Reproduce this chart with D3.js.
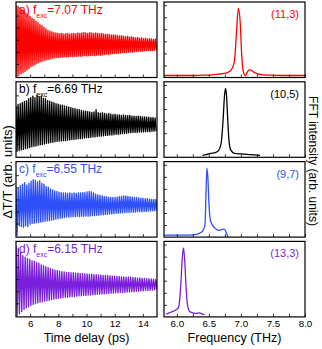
<!DOCTYPE html>
<html><head><meta charset="utf-8">
<script src="https://cdn.jsdelivr.net/npm/d3@7"></script>
<style>body{margin:0;background:#fff}svg{display:block;font-family:"Liberation Sans",Arial,sans-serif}</style>
</head><body><svg id="c" width="322" height="349"></svg>
<script>
// ---------- data ----------
const timeDomain = [5, 15];
const freqDomain = [5.8, 8.0];
const timeTicks = [6, 7, 8, 9, 10, 11, 12, 13, 14];
const timeTickLabels = [6, 8, 10, 12, 14];
const freqTicks = [6.0, 6.25, 6.5, 6.75, 7.0, 7.25, 7.5, 7.75, 8.0];
const freqTickLabels = [6.0, 6.5, 7.0, 7.5, 8.0];
const panelLetters = ["a)", "b)", "c)", "d)"];
const fExc = [7.07, 6.69, 6.55, 6.15];
const modeLabels = ["(11,3)", "(10,5)", "(9,7)", "(13,3)"];
const colors = ["#ff0000", "#000000", "#2f50f8", "#7a1fdc"];

// time-domain oscillation: per-cycle peak and trough values (arb. units)
const peaksA = [0.92,0.88,0.85,0.80,0.76,0.70,0.66,0.62,0.57,0.54,0.49,0.45,0.40,0.37,0.33,0.29,0.25,0.23,0.21,0.19,0.18,0.17,0.16,0.17,0.15,0.16,0.17,0.15,0.16,0.17,0.16,0.18,0.17,0.18,0.19,0.18,0.17,0.19,0.18,0.17,0.18,0.17,0.16,0.17,0.15,0.14,0.15,0.13,0.12,0.13,0.12,0.11,0.10,0.11,0.09,0.08,0.09,0.07,0.08,0.06,0.05,0.06,0.04,0.05,0.03,0.04,0.02,0.03,0.02,0.01,0.02];
const troughsA = [-0.97,-0.94,-0.90,-0.87,-0.84,-0.80,-0.76,-0.72,-0.69,-0.66,-0.63,-0.61,-0.58,-0.56,-0.55,-0.53,-0.52,-0.50,-0.49,-0.48,-0.47,-0.47,-0.46,-0.46,-0.45,-0.46,-0.45,-0.44,-0.45,-0.44,-0.44,-0.43,-0.44,-0.43,-0.42,-0.43,-0.42,-0.42,-0.41,-0.42,-0.41,-0.40,-0.41,-0.40,-0.39,-0.38,-0.39,-0.37,-0.37,-0.36,-0.36,-0.35,-0.35,-0.34,-0.34,-0.33,-0.33,-0.32,-0.33,-0.31,-0.31,-0.30,-0.30,-0.30,-0.29,-0.29,-0.28,-0.29,-0.28,-0.28,-0.27];
const peaksB = [0.36,0.40,0.42,0.45,0.48,0.50,0.55,0.58,0.62,0.58,0.64,0.60,0.62,0.56,0.55,0.50,0.49,0.46,0.45,0.42,0.41,0.39,0.38,0.36,0.35,0.33,0.32,0.30,0.29,0.27,0.26,0.24,0.23,0.22,0.21,0.20,0.19,0.20,0.26,0.18,0.17,0.18,0.16,0.15,0.16,0.14,0.13,0.14,0.12,0.12,0.11,0.12,0.10,0.10,0.11,0.09,0.09,0.08,0.09,0.08,0.07,0.07,0.06,0.06,0.05,0.05,0.04];
const troughsB = [-0.84,-0.82,-0.80,-0.79,-0.77,-0.76,-0.74,-0.72,-0.71,-0.70,-0.68,-0.67,-0.66,-0.65,-0.63,-0.62,-0.61,-0.60,-0.59,-0.58,-0.57,-0.57,-0.56,-0.56,-0.55,-0.54,-0.53,-0.53,-0.52,-0.51,-0.51,-0.50,-0.49,-0.48,-0.48,-0.47,-0.46,-0.46,-0.45,-0.44,-0.44,-0.43,-0.42,-0.42,-0.41,-0.41,-0.40,-0.39,-0.39,-0.38,-0.37,-0.37,-0.36,-0.35,-0.35,-0.34,-0.34,-0.34,-0.33,-0.33,-0.33,-0.32,-0.32,-0.32,-0.31,-0.31,-0.31];
const peaksC = [0.30,0.28,0.36,0.40,0.44,0.38,0.42,0.48,0.52,0.50,0.46,0.49,0.42,0.40,0.34,0.32,0.27,0.25,0.22,0.21,0.19,0.18,0.17,0.17,0.16,0.17,0.16,0.17,0.16,0.17,0.17,0.18,0.18,0.20,0.21,0.20,0.17,0.14,0.12,0.11,0.09,0.08,0.07,0.06,0.05,0.05,0.05,0.06,0.07,0.08,0.09,0.09,0.08,0.07,0.06,0.05,0.05,0.04,0.03,0.03,0.02,0.02,0.01,0.00,0.00,-0.01];
const troughsC = [-0.95,-0.70,-0.72,-0.74,-0.70,-0.72,-0.66,-0.64,-0.63,-0.62,-0.61,-0.60,-0.59,-0.58,-0.57,-0.56,-0.55,-0.54,-0.52,-0.51,-0.50,-0.49,-0.48,-0.47,-0.47,-0.46,-0.46,-0.46,-0.45,-0.46,-0.45,-0.45,-0.44,-0.45,-0.44,-0.43,-0.43,-0.42,-0.42,-0.41,-0.41,-0.40,-0.40,-0.39,-0.39,-0.38,-0.37,-0.37,-0.36,-0.36,-0.35,-0.35,-0.35,-0.34,-0.34,-0.34,-0.33,-0.33,-0.33,-0.32,-0.32,-0.31,-0.31,-0.30,-0.30,-0.30];
const peaksD = [0.90,0.82,0.72,0.62,0.58,0.55,0.52,0.49,0.47,0.44,0.42,0.38,0.36,0.33,0.31,0.28,0.26,0.24,0.23,0.21,0.20,0.19,0.18,0.18,0.17,0.17,0.16,0.16,0.15,0.15,0.14,0.14,0.13,0.13,0.12,0.12,0.11,0.11,0.10,0.10,0.09,0.09,0.08,0.08,0.07,0.07,0.06,0.06,0.05,0.05,0.05,0.04,0.04,0.03,0.03,0.02,0.02,0.01,0.01,0.00,0.00,-0.01];
const troughsD = [-0.96,-0.92,-0.86,-0.80,-0.76,-0.73,-0.70,-0.67,-0.65,-0.63,-0.61,-0.60,-0.58,-0.57,-0.56,-0.54,-0.53,-0.52,-0.51,-0.50,-0.49,-0.48,-0.48,-0.47,-0.46,-0.46,-0.45,-0.44,-0.44,-0.43,-0.43,-0.42,-0.42,-0.41,-0.41,-0.40,-0.40,-0.39,-0.39,-0.38,-0.38,-0.37,-0.37,-0.36,-0.36,-0.35,-0.35,-0.35,-0.34,-0.34,-0.33,-0.33,-0.32,-0.32,-0.31,-0.31,-0.30,-0.30,-0.29,-0.29,-0.28,-0.28];

// FFT spectra (frequency in THz, normalised intensity)
const specFreqA = [5.8,6.0,6.2,6.4,6.55,6.65,6.74,6.82,6.87,6.90,6.93,6.96,6.99,7.01,7.03,7.05,7.07,7.10,7.13,7.16,7.20,7.26,7.35,7.5,7.7,8.0];
const specAmpA  = [0,0,0,0.005,0.01,0.02,0.03,0.06,0.12,0.22,0.63,1.0,0.78,0.35,0.1,0.02,0.0,0.05,0.085,0.08,0.05,0.025,0.01,0.005,0,0];
const specFreqB = [6.4,6.45,6.53,6.6,6.65,6.69,6.72,6.745,6.76,6.775,6.79,6.81,6.84,6.9,7.0,7.16,7.3];
const specAmpB  = [0,0.01,0.03,0.04,0.07,0.17,0.5,0.9,1.0,0.9,0.62,0.27,0.08,0.03,0.02,0.01,0];
const specFreqC = [5.8,6.0,6.2,6.3,6.36,6.41,6.44,6.455,6.47,6.485,6.5,6.52,6.55,6.6,6.65,6.7,6.74,6.77,6.8];
const specAmpC  = [0,0,0,0.01,0.03,0.07,0.16,0.62,1.0,0.85,0.5,0.24,0.16,0.1,0.07,0.08,0.09,0.04,-0.03];
const specFreqD = [5.83,5.88,5.93,5.98,6.03,6.06,6.085,6.105,6.125,6.145,6.165,6.2,6.25,6.3,6.35,6.4,6.43];
const specAmpD  = [0.01,0.03,0.05,0.07,0.12,0.42,0.85,1.0,0.78,0.4,0.16,0.05,0.03,0.02,0.03,0.01,0];

// ---------- drawing ----------
const peaks = [peaksA, peaksB, peaksC, peaksD];
const troughs = [troughsA, troughsB, troughsC, troughsD];
const specF = [specFreqA, specFreqB, specFreqC, specFreqD];
const specA = [specAmpA, specAmpB, specAmpC, specAmpD];

const svg = d3.select("#c");
const L = {x0: 16, x1: 157}, R = {x0: 164, x1: 305};
const panelH = 75.5, pitch = 79.8, top0 = 2;

const xT = d3.scaleLinear().domain(timeDomain).range([L.x0, L.x1]);
const xF = d3.scaleLinear().domain(freqDomain).range([R.x0, R.x1]);

for (let i = 0; i < 4; i++) {
  const top = top0 + i * pitch, bot = top + panelH;
  const yT = d3.scaleLinear().domain([-1, 1]).range([bot, top]);
  const yF = d3.scaleLinear().domain([0, 1]).range([bot - 2, bot - 69]);
  const col = colors[i];

  svg.append("clipPath").attr("id", "cl" + i).append("rect")
    .attr("x", L.x0).attr("y", top).attr("width", L.x1 - L.x0).attr("height", panelH);
  svg.append("clipPath").attr("id", "cr" + i).append("rect")
    .attr("x", R.x0).attr("y", top).attr("width", R.x1 - R.x0).attr("height", panelH);

  // time trace
  const pts = [];
  const f = fExc[i];
  peaks[i].forEach((v, k) => {
    pts.push([timeDomain[0] + k / f, v]);
    if (k < troughs[i].length) pts.push([timeDomain[0] + (k + 0.5) / f, troughs[i][k]]);
  });
  svg.append("path").attr("clip-path", `url(#cl${i})`)
    .attr("d", d3.line().x(d => xT(d[0])).y(d => yT(d[1]))(pts))
    .attr("fill", "none").attr("stroke", col).attr("stroke-width", 1.35).attr("stroke-linejoin", "round");

  // spectrum
  const sp = specF[i].map((fr, k) => [fr, specA[i][k]]);
  svg.append("path").attr("clip-path", `url(#cr${i})`)
    .attr("d", d3.line().x(d => xF(d[0])).y(d => yF(d[1])).curve(d3.curveMonotoneX)(sp))
    .attr("fill", "none").attr("stroke", col).attr("stroke-width", 1.3);

  // axes (inward ticks)
  const last = i === 3;
  const axT = svg.append("g").attr("transform", `translate(0,${bot})`)
    .call(d3.axisBottom(xT).tickValues(timeTicks).tickSizeInner(-3).tickSizeOuter(0).tickPadding(3.5)
      .tickFormat(d => last && timeTickLabels.includes(d) ? d : ""));
  const axF = svg.append("g").attr("transform", `translate(0,${bot})`)
    .call(d3.axisBottom(xF).tickValues(freqTicks).tickSizeInner(-3).tickSizeOuter(0).tickPadding(3.5)
      .tickFormat(d => last && freqTickLabels.includes(d) ? d3.format(".1f")(d) : ""));
  const yTickT = [-0.64, -0.32, 0, 0.32, 0.64];
  svg.append("g").attr("transform", `translate(${L.x0},0)`)
    .call(d3.axisLeft(yT).tickValues(yTickT).tickSizeInner(-3).tickSizeOuter(0).tickFormat(""));
  const yTickF = [0.15, 0.33, 0.51, 0.69, 0.87, 1.05];
  svg.append("g").attr("transform", `translate(${R.x0},0)`)
    .call(d3.axisLeft(yF).tickValues(yTickF).tickSizeInner(-3).tickSizeOuter(0).tickFormat(""));
  [axT, axF].forEach(a => a.selectAll("text").attr("font-size", 9.8).attr("font-family", "Liberation Sans, Arial, sans-serif").attr("fill", "#000"));
  svg.selectAll(".domain").remove();

  // frames
  svg.append("rect").attr("x", L.x0).attr("y", top).attr("width", L.x1 - L.x0).attr("height", panelH)
    .attr("fill", "none").attr("stroke", "#000").attr("stroke-width", 1.2);
  svg.append("rect").attr("x", R.x0).attr("y", top).attr("width", R.x1 - R.x0).attr("height", panelH)
    .attr("fill", "none").attr("stroke", "#000").attr("stroke-width", 1.2);

  // panel labels
  const t = svg.append("text").attr("x", L.x0 + 3).attr("y", top + 11.5).attr("fill", col).attr("font-size", 12);
  t.append("tspan").text(panelLetters[i] + " f");
  t.append("tspan").attr("dy", 4).attr("font-size", 7).text("exc");
  t.append("tspan").attr("dy", -4).text("=" + fExc[i].toFixed(2) + " THz");
  svg.append("text").attr("x", R.x1 - 6).attr("y", top + 16).attr("text-anchor", "end")
    .attr("fill", col).attr("font-size", 11).text(modeLabels[i]);
}

// drop empty tick labels
svg.selectAll(".tick text").filter(function () { return this.textContent === ""; }).remove();
svg.selectAll(".tick line").attr("stroke", "#000").attr("stroke-width", 0.8);

// axis titles
svg.append("text").attr("x", (L.x0 + L.x1) / 2).attr("y", 342).attr("text-anchor", "middle")
  .attr("font-size", 12.5).text("Time delay (ps)");
svg.append("text").attr("x", (R.x0 + R.x1) / 2).attr("y", 342).attr("text-anchor", "middle")
  .attr("font-size", 12.5).text("Frequency (THz)");
svg.append("text").attr("transform", "translate(12,172) rotate(-90)").attr("text-anchor", "middle")
  .attr("font-size", 13).text("ΔT/T (arb. units)");
svg.append("text").attr("transform", "translate(309,161) rotate(90)").attr("text-anchor", "middle")
  .attr("font-size", 12).text("FFT intensity (arb. units)");
</script></body></html>
